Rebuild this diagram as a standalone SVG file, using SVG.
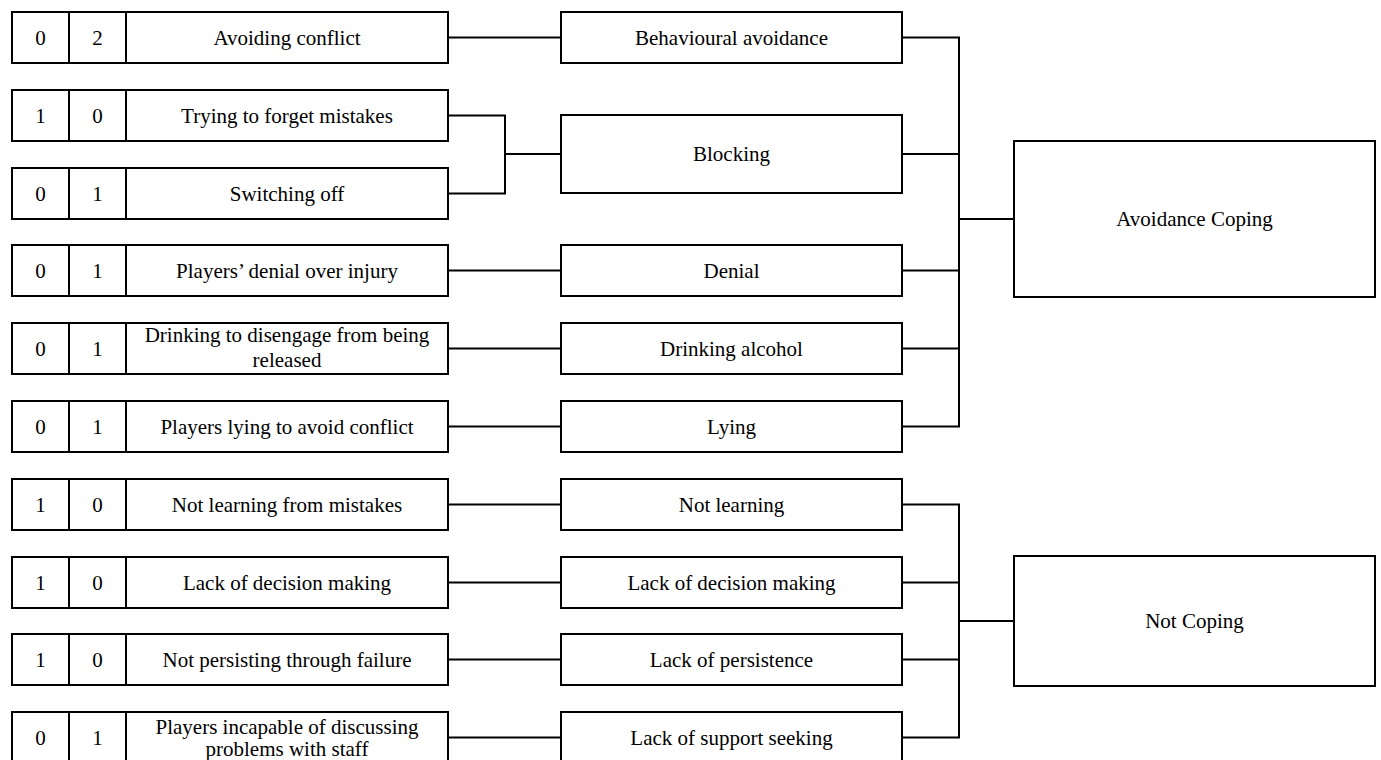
<svg xmlns="http://www.w3.org/2000/svg" width="1381" height="760" viewBox="0 0 1381 760">
<style>
rect{fill:#fff;stroke:#000;stroke-width:2}
line,path{stroke:#000;stroke-width:2;fill:none}
text{font-family:"Liberation Serif","Times New Roman",serif;font-size:21px;fill:#000;text-anchor:middle}
</style>
<rect x="0" y="0" width="1381" height="760" style="stroke:none"/>
<g id="connectors">
<line x1="448" y1="37.5" x2="561" y2="37.5"/>
<path d="M448 115.5H505V193.5H448M505 154H561"/>
<line x1="448" y1="270.5" x2="561" y2="270.5"/>
<line x1="448" y1="348.5" x2="561" y2="348.5"/>
<line x1="448" y1="426.5" x2="561" y2="426.5"/>
<line x1="448" y1="504.5" x2="561" y2="504.5"/>
<line x1="448" y1="582.5" x2="561" y2="582.5"/>
<line x1="448" y1="659.5" x2="561" y2="659.5"/>
<line x1="448" y1="737.5" x2="561" y2="737.5"/>
<path d="M902 37.5H959V426.5H902M902 154H959M902 270.5H959M902 348.5H959M959 219H1014"/>
<path d="M902 504.5H959V737.5H902M902 582.5H959M902 659.5H959M959 621H1014"/>
</g>
<g id="row1"><rect x="12" y="12" width="436" height="51"/><line x1="69" y1="12" x2="69" y2="63"/><line x1="126" y1="12" x2="126" y2="63"/><text x="40.5" y="44.5">0</text><text x="97.5" y="44.5">2</text><text x="287" y="44.5">Avoiding conflict</text></g>
<g id="row2"><rect x="12" y="90" width="436" height="51"/><line x1="69" y1="90" x2="69" y2="141"/><line x1="126" y1="90" x2="126" y2="141"/><text x="40.5" y="122.5">1</text><text x="97.5" y="122.5">0</text><text x="287" y="122.5">Trying to forget mistakes</text></g>
<g id="row3"><rect x="12" y="168" width="436" height="51"/><line x1="69" y1="168" x2="69" y2="219"/><line x1="126" y1="168" x2="126" y2="219"/><text x="40.5" y="200.5">0</text><text x="97.5" y="200.5">1</text><text x="287" y="200.5">Switching off</text></g>
<g id="row4"><rect x="12" y="245" width="436" height="51"/><line x1="69" y1="245" x2="69" y2="296"/><line x1="126" y1="245" x2="126" y2="296"/><text x="40.5" y="277.5">0</text><text x="97.5" y="277.5">1</text><text x="287" y="277.5">Players’ denial over injury</text></g>
<g id="row5"><rect x="12" y="323" width="436" height="51"/><line x1="69" y1="323" x2="69" y2="374"/><line x1="126" y1="323" x2="126" y2="374"/><text x="40.5" y="355.5">0</text><text x="97.5" y="355.5">1</text><text x="287" y="342">Drinking to disengage from being</text><text x="287" y="366.5">released</text></g>
<g id="row6"><rect x="12" y="401" width="436" height="51"/><line x1="69" y1="401" x2="69" y2="452"/><line x1="126" y1="401" x2="126" y2="452"/><text x="40.5" y="433.5">0</text><text x="97.5" y="433.5">1</text><text x="287" y="433.5">Players lying to avoid conflict</text></g>
<g id="row7"><rect x="12" y="479" width="436" height="51"/><line x1="69" y1="479" x2="69" y2="530"/><line x1="126" y1="479" x2="126" y2="530"/><text x="40.5" y="511.5">1</text><text x="97.5" y="511.5">0</text><text x="287" y="511.5">Not learning from mistakes</text></g>
<g id="row8"><rect x="12" y="557" width="436" height="51"/><line x1="69" y1="557" x2="69" y2="608"/><line x1="126" y1="557" x2="126" y2="608"/><text x="40.5" y="589.5">1</text><text x="97.5" y="589.5">0</text><text x="287" y="589.5">Lack of decision making</text></g>
<g id="row9"><rect x="12" y="634" width="436" height="51"/><line x1="69" y1="634" x2="69" y2="685"/><line x1="126" y1="634" x2="126" y2="685"/><text x="40.5" y="666.5">1</text><text x="97.5" y="666.5">0</text><text x="287" y="666.5">Not persisting through failure</text></g>
<g id="row10"><rect x="12" y="712" width="436" height="51"/><line x1="69" y1="712" x2="69" y2="763"/><line x1="126" y1="712" x2="126" y2="763"/><text x="40.5" y="744.5">0</text><text x="97.5" y="744.5">1</text><text x="287" y="734">Players incapable of discussing</text><text x="287" y="756">problems with staff</text></g>
<g id="behavioural-avoidance"><rect x="561" y="12" width="341" height="51"/><text x="731.5" y="44.5">Behavioural avoidance</text></g>
<g id="blocking"><rect x="561" y="115" width="341" height="78"/><text x="731.5" y="161">Blocking</text></g>
<g id="denial"><rect x="561" y="245" width="341" height="51"/><text x="731.5" y="277.5">Denial</text></g>
<g id="drinking-alcohol"><rect x="561" y="323" width="341" height="51"/><text x="731.5" y="355.5">Drinking alcohol</text></g>
<g id="lying"><rect x="561" y="401" width="341" height="51"/><text x="731.5" y="433.5">Lying</text></g>
<g id="not-learning"><rect x="561" y="479" width="341" height="51"/><text x="731.5" y="511.5">Not learning</text></g>
<g id="lack-decision"><rect x="561" y="557" width="341" height="51"/><text x="731.5" y="589.5">Lack of decision making</text></g>
<g id="lack-persistence"><rect x="561" y="634" width="341" height="51"/><text x="731.5" y="666.5">Lack of persistence</text></g>
<g id="lack-support"><rect x="561" y="712" width="341" height="51"/><text x="731.5" y="744.5">Lack of support seeking</text></g>
<g id="avoidance-coping"><rect x="1014" y="141" width="361" height="156"/><text x="1194.5" y="226">Avoidance Coping</text></g>
<g id="not-coping"><rect x="1014" y="556" width="361" height="130"/><text x="1194.5" y="628">Not Coping</text></g>
</svg>
